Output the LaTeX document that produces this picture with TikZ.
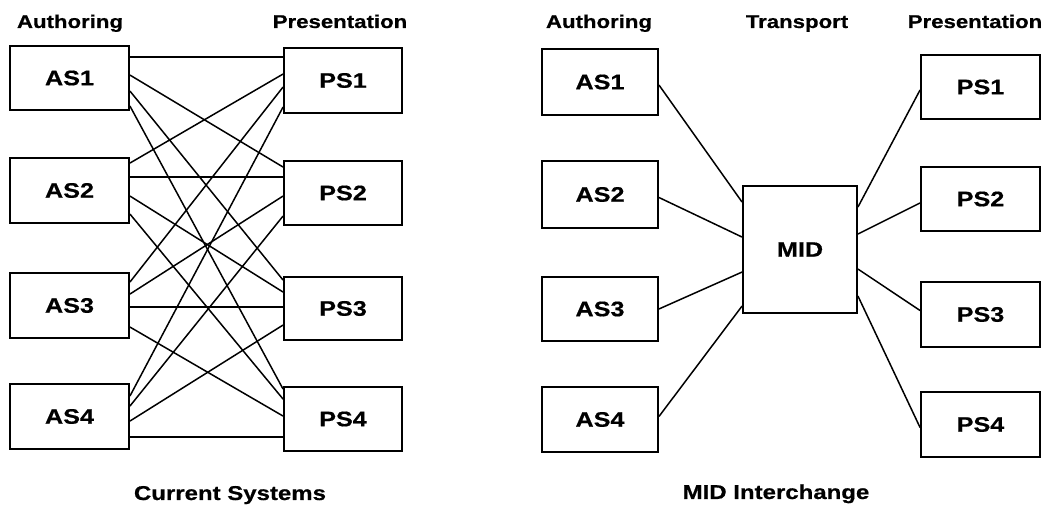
\documentclass[tikz,border=0pt]{standalone}
\usepackage{fontspec}
\setmainfont[FakeStretch=1.2,FakeBold=0.6]{Liberation Sans Bold}
\begin{document}
\begin{tikzpicture}[x=1pt,y=-1pt,
  box/.style={draw=black,line width=1.9pt,inner sep=0pt,font=\fontsize{21}{21}\selectfont},
  head/.style={anchor=base,font=\fontsize{18.5}{18.5}\selectfont},
  capt/.style={anchor=base,font=\fontsize{20}{20}\selectfont},
  link/.style={line width=1.5pt}]
\useasboundingbox (0,0) rectangle (1061,510);
% ---------- left: Current Systems ----------
\node[head] (hA1) at (70,28) {Authoring};
\node[head] (hP1) at (340,28) {Presentation};
\node[box,minimum width=119pt,minimum height=64pt] (AS1) at (69.5,78) {AS1};
\node[box,minimum width=119pt,minimum height=65pt] (AS2) at (69.5,190.5) {AS2};
\node[box,minimum width=119pt,minimum height=65pt] (AS3) at (69.5,305.5) {AS3};
\node[box,minimum width=119pt,minimum height=65pt] (AS4) at (69.5,416.5) {AS4};
\node[box,minimum width=118pt,minimum height=65pt] (PS1) at (343,80.5) {PS1};
\node[box,minimum width=118pt,minimum height=64pt] (PS2) at (343,193) {PS2};
\node[box,minimum width=118pt,minimum height=63pt] (PS3) at (343,308.5) {PS3};
\node[box,minimum width=118pt,minimum height=64pt] (PS4) at (343,419) {PS4};
\node[capt] (c1) at (230,500) {Current Systems};
% links: offsets from top of AS box / PS box
\foreach \a/\p/\ya/\yp in {
  1/1/12/10, 1/2/30/7, 1/3/46/4, 1/4/61/3,
  2/1/6/27, 2/2/20/17, 2/3/39/16, 2/4/57/13,
  3/1/10/40, 3/2/22/36, 3/3/35/31, 3/4/55/30,
  4/1/13/60, 4/2/23/56, 4/3/38/49, 4/4/54/51}
  \draw[link] ([yshift=-\ya pt]AS\a.north east) -- ([yshift=-\yp pt]PS\p.north west);
% ---------- right: MID Interchange ----------
\node[head] (hA2) at (599,28) {Authoring};
\node[head] (hT2) at (797,28) {Transport};
\node[head] (hP2) at (975,28) {Presentation};
\node[box,minimum width=116pt,minimum height=66pt] (BS1) at (600,82) {AS1};
\node[box,minimum width=116pt,minimum height=67pt] (BS2) at (600,194.5) {AS2};
\node[box,minimum width=116pt,minimum height=64pt] (BS3) at (600,309) {AS3};
\node[box,minimum width=116pt,minimum height=65pt] (BS4) at (600,419.5) {AS4};
\node[box,minimum width=119pt,minimum height=64pt] (QS1) at (980.5,87) {PS1};
\node[box,minimum width=119pt,minimum height=64pt] (QS2) at (980.5,199) {PS2};
\node[box,minimum width=119pt,minimum height=65pt] (QS3) at (980.5,314.5) {PS3};
\node[box,minimum width=119pt,minimum height=65pt] (QS4) at (980.5,424.5) {PS4};
\node[box,minimum width=114pt,minimum height=127pt] (MID) at (800,249.5) {MID};
\node[capt] (c2) at (776,499) {MID Interchange};
\draw[link] ([yshift=-3pt]BS1.east) -- ([yshift=-17pt]MID.north west);
\draw[link] ([yshift=-3pt]BS2.east) -- ([yshift=-52pt]MID.north west);
\draw[link] (BS3.east) -- ([yshift=-87pt]MID.north west);
\draw[link] ([yshift=3pt]BS4.east) -- ([yshift=-121pt]MID.north west);
\draw[link] ([yshift=-22pt]MID.north east) -- ([yshift=-3pt]QS1.west);
\draw[link] ([yshift=-49pt]MID.north east) -- ([yshift=-4pt]QS2.west);
\draw[link] ([yshift=-84pt]MID.north east) -- ([yshift=4pt]QS3.west);
\draw[link] ([yshift=-111pt]MID.north east) -- ([yshift=-3pt]QS4.west);
\end{tikzpicture}
\end{document}
